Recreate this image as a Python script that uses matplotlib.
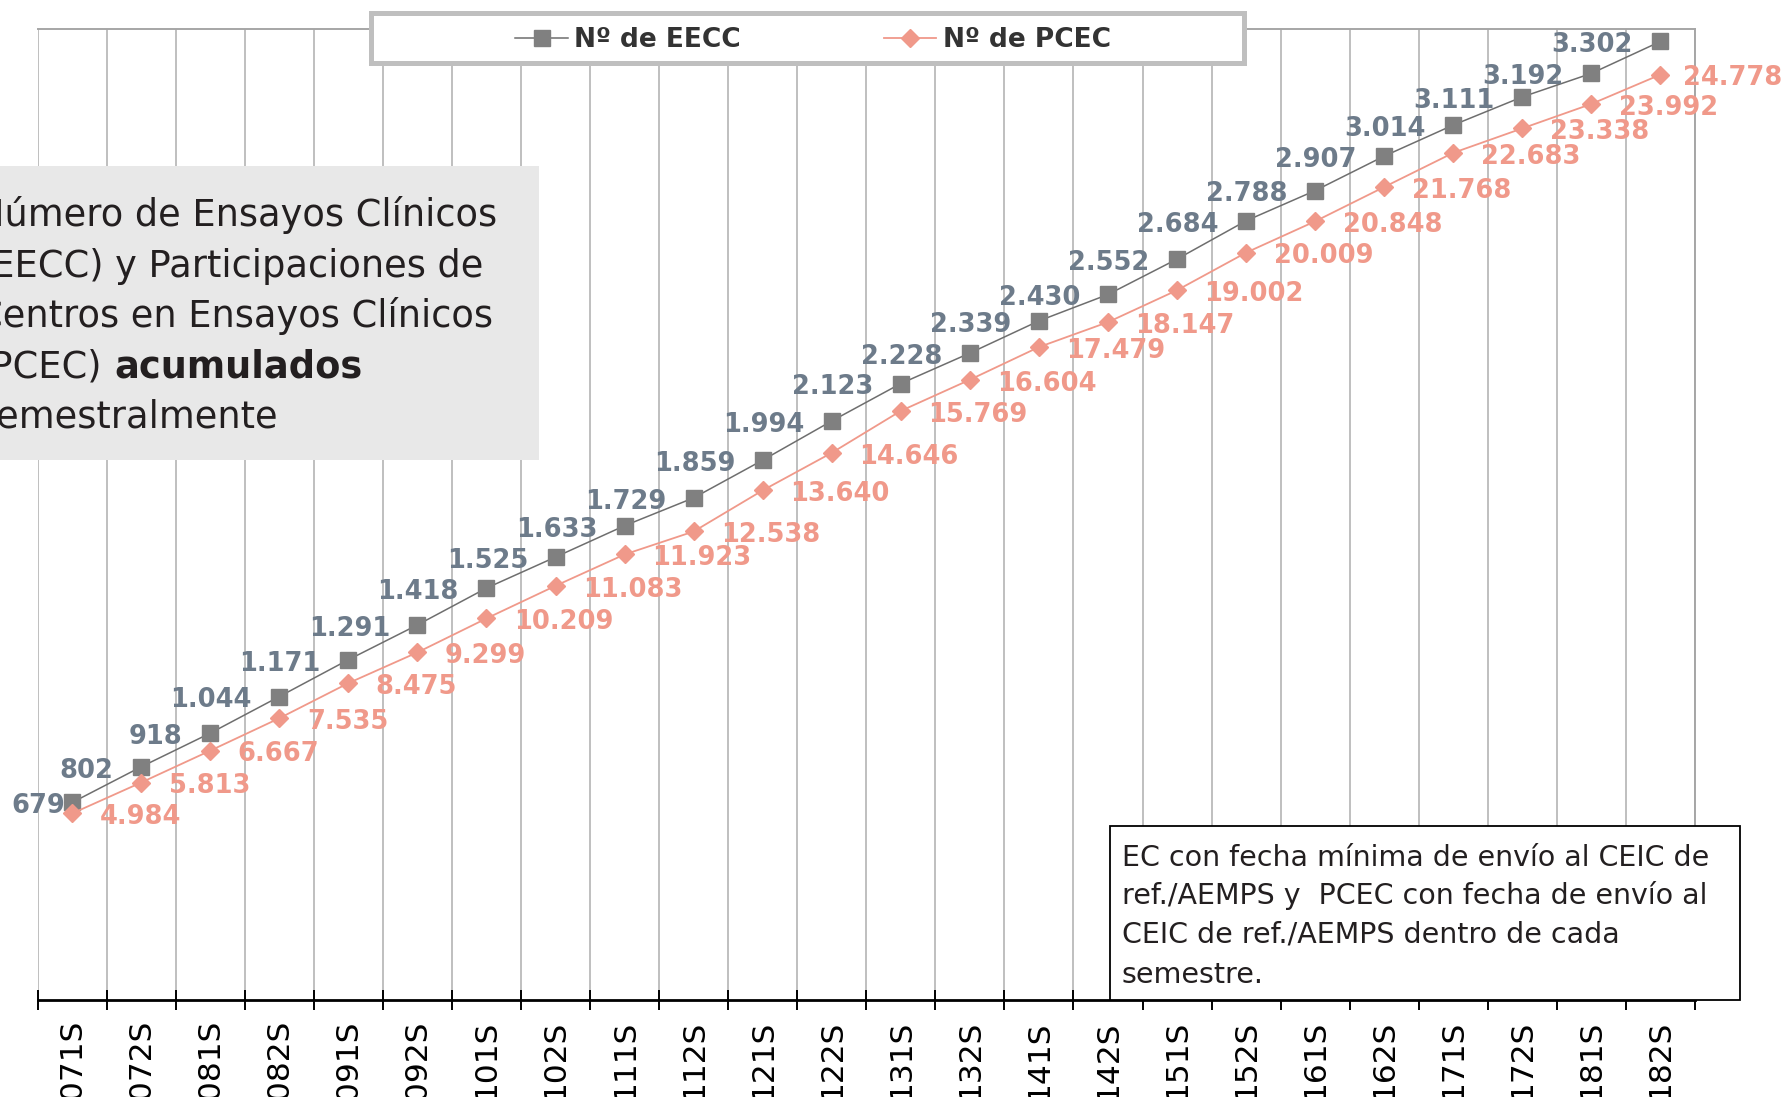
import numpy as np
import matplotlib
matplotlib.use("Agg")
import matplotlib.pyplot as plt
from matplotlib.patches import Rectangle
from matplotlib.text import Annotation

plt.rcParams['font.family'] = ['DejaVu Sans']

categories = ["071S", "072S", "081S", "082S", "091S", "092S", "101S", "102S",
              "111S", "112S", "121S", "122S", "131S", "132S", "141S", "142S",
              "151S", "152S", "161S", "162S", "171S", "172S", "181S", "182S"]
eecc = [679, 802, 918, 1044, 1171, 1291, 1418, 1525, 1633, 1729, 1859, 1994,
        2123, 2228, 2339, 2430, 2552, 2684, 2788, 2907, 3014, 3111, 3192, 3302]
pcec = [4984, 5813, 6667, 7535, 8475, 9299, 10209, 11083, 11923, 12538, 13640, 14646,
        15769, 16604, 17479, 18147, 19002, 20009, 20848, 21768, 22683, 23338, 23992, 24778]
series_names = ["Nº de EECC", "Nº de PCEC"]
title_lines = ["Número de Ensayos Clínicos", "(EECC) y Participaciones de",
               "Centros en Ensayos Clínicos", "(PCEC)", "semestralmente"]
title_bold = "acumulados"
note_lines = ["EC con fecha mínima de envío al CEIC de",
              "ref./AEMPS y  PCEC con fecha de envío al",
              "CEIC de ref./AEMPS dentro de cada",
              "semestre."]

W, H = 1787, 1097
DPI = 100
fig = plt.figure(figsize=(W / DPI, H / DPI), dpi=DPI)


def fx(px):
    return px / W


def fy(py):
    return 1 - py / H


L, R, T, B = 37.6, 1695.0, 29.0, 999.5
ax = fig.add_axes([fx(L), fy(B), (R - L) / W, (B - T) / H])
ax2 = ax.twinx()

x = np.arange(len(categories))
l1, = ax.plot(x, eecc, color='#6E6E6E', lw=1.1, marker='s', ms=11,
              mfc='#808080', mec='#808080', zorder=3)
l2, = ax2.plot(x, pcec, color='#F0998A', lw=1.3, marker='D', ms=9.5,
               mfc='#F0998A', mec='#F0998A', zorder=3)

ax.set_xlim(-0.5, len(categories) - 0.5)
ax.set_ylim(0, 3345)
ax2.set_ylim(0, 26000)

ax.set_xticks(np.arange(-0.5, len(categories), 1.0))
ax.set_xticklabels([])
ax.set_xticks(x, minor=True)
ax.set_xticklabels(categories, minor=True, rotation=90, fontsize=22.5)
ax.tick_params(axis='x', which='major', direction='inout', length=13.7,
               width=1.4, color='black')
ax.tick_params(axis='x', which='minor', length=0, pad=14.8)
ax.grid(axis='x', which='major', color='#ADADAD', lw=1.1)
ax.set_axisbelow(True)
ax.set_yticks([])
ax2.set_yticks([])

ax.spines['left'].set_visible(False)
for s in ['top', 'right']:
    ax.spines[s].set_color('#A6A6A6')
    ax.spines[s].set_linewidth(1.4)
ax.spines['bottom'].set_color('black')
ax.spines['bottom'].set_linewidth(2.0)
for s in ax2.spines.values():
    s.set_visible(False)


def fmt(v):
    return f"{v:,}".replace(",", ".")


lab_eecc = [ax.annotate(fmt(v), (xi, v), xytext=(-19.8, -7.8), textcoords='offset points',
                        ha='right', va='baseline', fontsize=18.5, fontweight='bold',
                        color='#6D7B8A', zorder=4)
            for xi, v in zip(x, eecc)]
lab_pcec = [ax2.annotate(fmt(v), (xi, v), xytext=(19.8, -7.8), textcoords='offset points',
                         ha='left', va='baseline', fontsize=18.5, fontweight='bold',
                         color='#F0998A', zorder=4)
            for xi, v in zip(x, pcec)]

# legend
leg_box = Rectangle((fx(370.5), fy(62.5)), (1243.5 - 370.5) / W, (62.5 - 13.5) / H,
                    transform=fig.transFigure, fc='white', ec='#BFBFBF', lw=3.6, zorder=1)
fig.add_artist(leg_box)
leg = fig.legend([l1, l2], series_names, loc='center', bbox_to_anchor=(fx(813), fy(40)),
                 bbox_transform=fig.transFigure, ncol=2, frameon=False,
                 prop={'weight': 'bold', 'size': 19}, labelcolor='#333333',
                 handlelength=2.0, handletextpad=0.24, columnspacing=5.4,
                 borderpad=0, borderaxespad=0)
leg.set_zorder(5)

# title box (left)
grey_box = Rectangle((0, fy(460)), 539 / W, (460 - 166) / H, transform=fig.transFigure,
                     fc='#E8E8E8', ec='none', zorder=1)
fig.add_artist(grey_box)
baselines = [226, 277, 327, 378, 428]
title_texts = []
for line, bl in zip(title_lines, baselines):
    t = fig.text(fx(-23), fy(bl), line, fontsize=26.5, color='#231F20',
                 ha='left', va='baseline', zorder=3)
    title_texts.append(t)
bold_ann = Annotation(title_bold, xy=(1, 0), xycoords=title_texts[3], xytext=(8.4, 0),
                      textcoords='offset points', ha='left', va='bottom',
                      fontsize=26.5, fontweight='bold', color='#231F20', zorder=3)
fig.add_artist(bold_ann)

# note box (bottom right)
note_box = Rectangle((fx(1110), fy(999.5)), 630 / W, (999.5 - 826) / H,
                     transform=fig.transFigure, fc='white', ec='black', lw=1.3, zorder=1)
fig.add_artist(note_box)
for line, bl in zip(note_lines, [866, 904.3, 942.7, 982.7]):
    fig.text(fx(1121.7), fy(bl), line, fontsize=20.5, color='#231F20',
             ha='left', va='baseline', zorder=3)

# keep data labels inside the figure
fig.canvas.draw()
r = fig.canvas.get_renderer()
for t in lab_eecc + lab_pcec:
    bb = t.get_window_extent(r)
    dx = 0
    if bb.x0 < 11:
        dx = 11 - bb.x0
    elif bb.x1 > W - 5:
        dx = (W - 5) - bb.x1
    if dx:
        ox, oy = t.xyann
        t.xyann = (ox + dx * 72 / DPI, oy)

fig.savefig('out.png', dpi=DPI)
